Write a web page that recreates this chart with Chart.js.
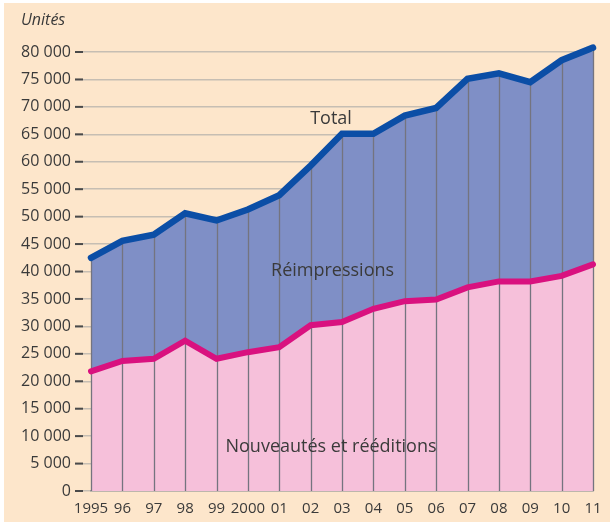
<!DOCTYPE html>
<html>
<head>
<meta charset="utf-8">
<script src="https://cdn.jsdelivr.net/npm/chart.js@4.4.1/dist/chart.umd.min.js"></script>
<style>
  html, body { margin: 0; padding: 0; background: #ffffff; }
  #wrap { width: 610px; height: 522px; }
</style>
</head>
<body>
<div id="wrap"><canvas id="chart" width="610" height="522"></canvas></div>
<script>
// Années et séries (unités)
const years = ['1995', '96', '97', '98', '99', '2000', '01', '02', '03', '04', '05', '06', '07', '08', '09', '10', '11'];
const nouveautes = [21800, 23700, 24100, 27400, 24100, 25300, 26200, 30200, 30800, 33200, 34600, 34900, 37100, 38200, 38200, 39200, 41300];
const total = [42500, 45600, 46700, 50600, 49300, 51300, 53900, 59300, 65100, 65100, 68400, 69800, 75100, 76100, 74500, 78500, 80800];
const yTicks = [0, 5000, 10000, 15000, 20000, 25000, 30000, 35000, 40000, 45000, 50000, 55000, 60000, 65000, 70000, 75000, 80000];

const CREAM = '#fde6cb';
const TEXT = '#3a3a3a';

const fmt = v => String(v).replace(/\B(?=(\d{3})+(?!\d))/g, ' ');

const decor = {
  id: 'decor',
  beforeDraw(chart) {
    const ctx = chart.ctx;
    ctx.save();
    ctx.fillStyle = CREAM;
    ctx.fillRect(4, 3, chart.width - 4, chart.height - 3);
    ctx.restore();
  },
  beforeDatasetsDraw(chart) {
    // vertical separators inside the filled area
    const ctx = chart.ctx;
    const x = chart.scales.x, y = chart.scales.y;
    ctx.save();
    ctx.strokeStyle = '#74747f';
    ctx.lineWidth = 1.3;
    total.forEach((v, i) => {
      const px = Math.round(x.getPixelForValue(i)) + 0.5;
      ctx.beginPath();
      ctx.moveTo(px, y.getPixelForValue(0));
      ctx.lineTo(px, y.getPixelForValue(v));
      ctx.stroke();
    });
    ctx.restore();
  },
  afterDraw(chart) {
    const ctx = chart.ctx;
    const x = chart.scales.x, y = chart.scales.y;
    ctx.save();
    // dark tick dashes
    ctx.strokeStyle = '#4a4a4a';
    ctx.lineWidth = 2;
    yTicks.forEach(v => {
      const py = y.getPixelForValue(v);
      ctx.beginPath();
      ctx.moveTo(75, py);
      ctx.lineTo(83, py);
      ctx.stroke();
    });
    ctx.fillStyle = TEXT;
    ctx.textAlign = 'center';
    ctx.textBaseline = 'middle';
    ctx.font = '18px "Open Sans", sans-serif';
    ctx.fillText('Total', x.getPixelForValue(7.65), y.getPixelForValue(67800));
    ctx.fillText('Réimpressions', x.getPixelForValue(7.7), y.getPixelForValue(40200));
    ctx.fillText('Nouveautés et rééditions', x.getPixelForValue(7.65), y.getPixelForValue(8000));
    ctx.textAlign = 'left';
    ctx.font = 'italic 16px "Open Sans", sans-serif';
    ctx.fillText('Unités', 21, 20);
    ctx.restore();
  }
};

new Chart(document.getElementById('chart'), {
  type: 'line',
  data: {
    labels: years,
    datasets: [
      {
        label: 'Nouveautés et rééditions',
        data: nouveautes,
        borderColor: '#d9117f',
        backgroundColor: '#f6c0da',
        borderWidth: 6,
        borderCapStyle: 'round',
        fill: 'origin',
        pointRadius: 0,
        tension: 0,
        clip: false
      },
      {
        label: 'Total',
        data: total,
        borderColor: '#0b4ea6',
        backgroundColor: '#7f8fc6',
        borderWidth: 6.5,
        borderCapStyle: 'round',
        fill: '-1',
        pointRadius: 0,
        tension: 0,
        clip: false
      }
    ]
  },
  options: {
    responsive: false,
    animation: false,
    events: [],
    layout: { padding: { top: 52, right: 17, left: 0, bottom: 0 } },
    plugins: {
      legend: { display: false },
      tooltip: { enabled: false },
      filler: { drawTime: 'beforeDatasetsDraw' }
    },
    scales: {
      x: {
        offset: false,
        grid: { display: false },
        border: { display: true, color: '#9a9a9a', width: 1.5 },
        ticks: {
          color: TEXT,
          padding: 1,
          maxRotation: 0,
          autoSkip: false,
          font: { family: '"Open Sans", sans-serif', size: 15 }
        },
        afterFit(scale) { scale.height = 31; }
      },
      y: {
        min: 0,
        max: 80000,
        afterBuildTicks(scale) { scale.ticks = yTicks.map(v => ({ value: v })); },
        grid: { color: '#c6beb3', lineWidth: 1.5, tickLength: 16, tickColor: '#c6beb3' },
        border: { display: false },
        ticks: {
          color: TEXT,
          padding: 4,
          callback: v => fmt(v),
          font: { family: '"Open Sans", sans-serif', size: 16 }
        },
        afterFit(scale) { scale.width = 91; }
      }
    }
  },
  plugins: [decor]
});
</script>
</body>
</html>
